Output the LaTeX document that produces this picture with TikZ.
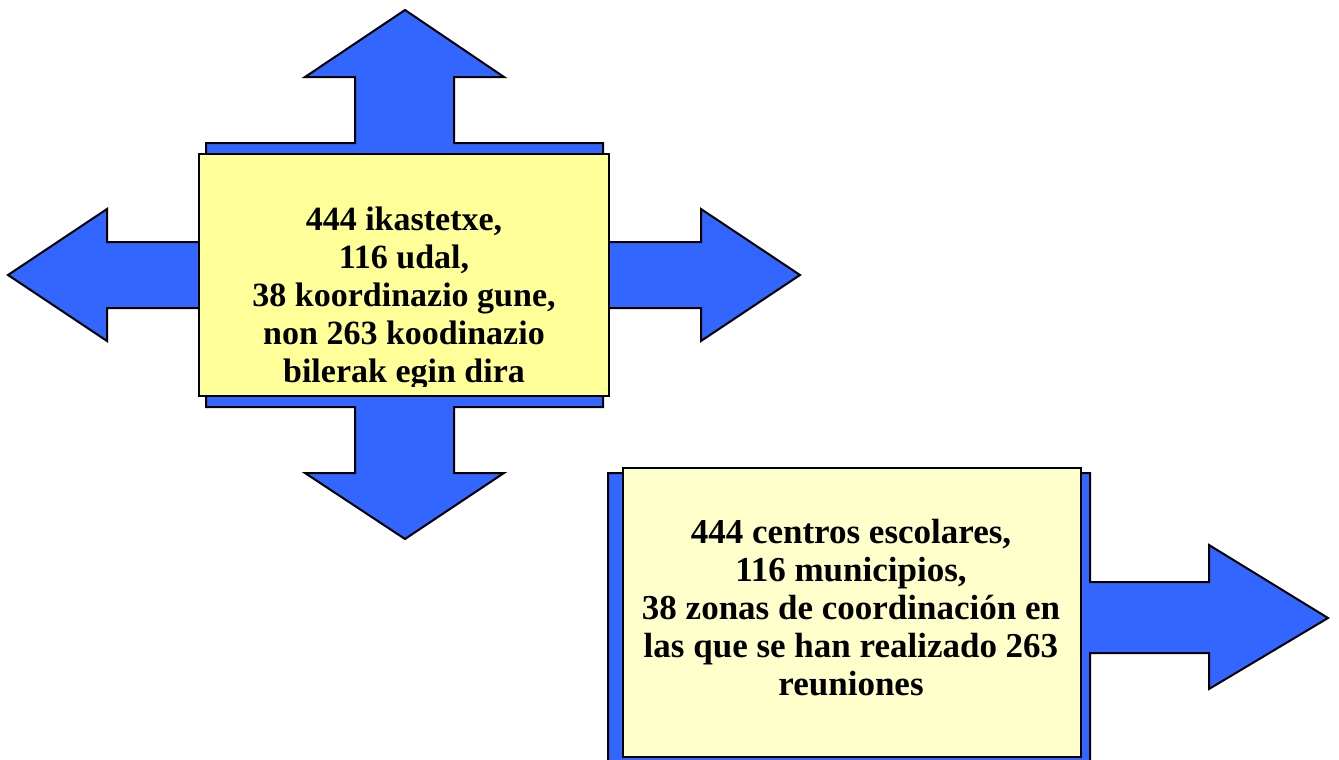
\documentclass[tikz,border=0pt]{standalone}
\usepackage{fontspec}
\setmainfont{Liberation Serif}
\definecolor{arrowblue}{HTML}{3366FF}
\definecolor{boxyellow}{HTML}{FFFF99}
\definecolor{paleyellow}{HTML}{FFFFCC}
\tikzset{
  blueshape/.style={fill=arrowblue, draw=black, line width=1pt, line join=miter},
  yellowbox/.style={draw=black, line width=1.2pt},
  boxtext/.style={font=\bfseries\fontsize{17}{19.1}\selectfont, align=center, inner sep=0pt},
}
\begin{document}
\begin{tikzpicture}[x=0.5pt, y=-0.5pt]
\useasboundingbox (0,0) rectangle (1339,760);
\clip (0,0) rectangle (1339,760);
% ---- four-way arrow behind the first box
\draw[blueshape]
  (405,10) -- (504,77) -- (454,77) -- (454,143) -- (603,143) -- (603,242)
  -- (701,242) -- (701,209) -- (800,275) -- (701,341) -- (701,308)
  -- (603,308) -- (603,407) -- (454,407) -- (454,473) -- (504,473)
  -- (405,539) -- (305,473) -- (355,473) -- (355,407) -- (206,407)
  -- (206,308) -- (107,308) -- (107,341) -- (8,275) -- (107,209)
  -- (107,242) -- (206,242) -- (206,143) -- (355,143) -- (355,77)
  -- (305,77) -- cycle;
% ---- first box
\fill[boxyellow] (199,154) rectangle (609,396);
\begin{scope}
  \clip (199,154) rectangle (609,386);
  \node[boxtext] (t1) at (404,298.5) {444 ikastetxe,\\116 udal,\\38 koordinazio gune,\\non 263 koodinazio\\bilerak egin dira};
\end{scope}
\draw[yellowbox] (199,154) rectangle (609,396);
\coordinate (b1) at (404,275);
% ---- right arrow behind the second box
\draw[blueshape]
  (608,473) -- (1090,473) -- (1090,582) -- (1209,582) -- (1209,545)
  -- (1328,618) -- (1209,689) -- (1209,653) -- (1090,653) -- (1090,780)
  -- (608,780) -- cycle;
% ---- second box
\node[yellowbox, fill=paleyellow, minimum width=229pt, minimum height=144.5pt, inner sep=0pt, anchor=north west] (b2) at (622,467) {};
\node[boxtext, font=\bfseries\fontsize{17.5}{19}\selectfont] (t2) at (851,607.5) {444 centros escolares,\\116 municipios,\\38 zonas de coordinación en\\las que se han realizado 263\\reuniones};
\end{tikzpicture}
\end{document}
